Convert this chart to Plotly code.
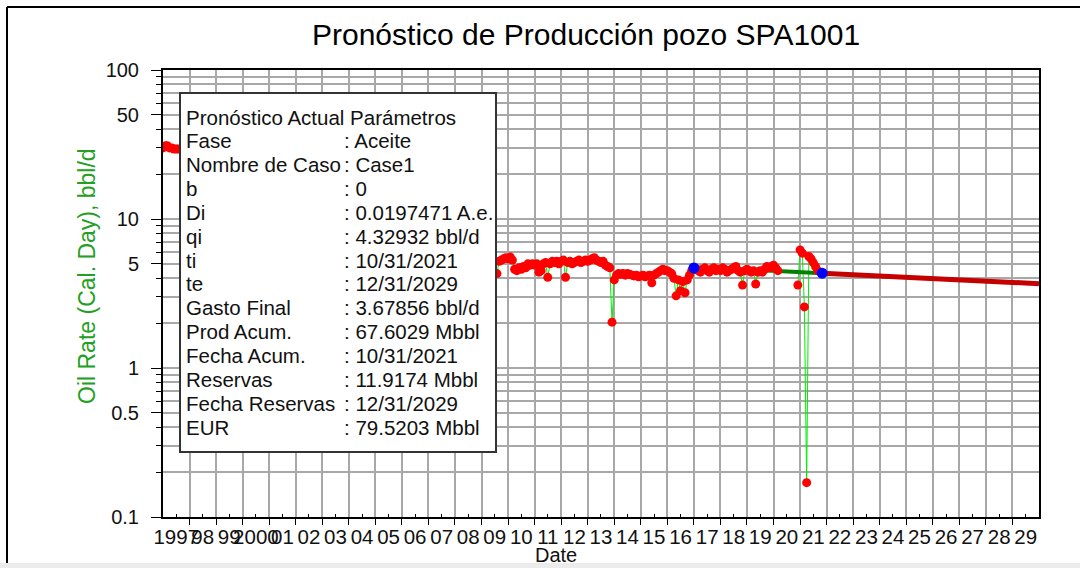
import pandas as pd
import plotly.graph_objects as go

# ---------------- data ----------------
early_dates = ["1997-01-01", "1997-02-01", "1997-03-01", "1997-04-01",
               "1997-05-01", "1997-06-01", "1997-07-01", "1997-08-01"]
early_values = [30.0, 31.0, 31.0, 30.0, 30.0, 29.5, 29.5, 29.5]

hist_start = "2009-05-01"
hist_end = "2021-09-01"
v2009 = [5.0, 5.1, 5.2, 4.3, 5.2, 5.3, 5.4, 5.5]
v2010 = [5.4, 5.55, 5.3, 4.6, 4.5, 4.7, 4.6, 4.8, 4.7, 5.0, 4.9, 5.0]
v2011 = [4.9, 5.0, 4.4, 4.5, 5.0, 5.1, 4.06, 5.0, 5.2, 5.1, 5.2, 5.0]
v2012 = [5.2, 5.3, 4.06, 5.1, 5.2, 5.0, 5.1, 5.2, 5.3, 5.1, 5.2, 5.3]
v2013 = [5.2, 5.3, 5.4, 5.5, 5.3, 5.2, 5.1, 5.2, 4.9, 4.8, 4.7, 2.03]
v2014 = [3.9, 4.2, 4.3, 4.25, 4.3, 4.2, 4.3, 4.25, 4.2, 4.15, 4.2, 4.1]
v2015 = [4.15, 4.2, 4.1, 4.15, 4.2, 3.73, 4.2, 4.3, 4.4, 4.5, 4.6, 4.5]
v2016 = [4.5, 4.4, 4.3, 4.0, 3.05, 3.9, 3.3, 3.8, 3.2, 3.9, 4.2, 4.5]
v2017 = [4.7, 4.6, 4.5, 4.4, 4.6, 4.7, 4.5, 4.4, 4.6, 4.7, 4.5, 4.6]
v2018 = [4.5, 4.7, 4.6, 4.4, 4.5, 4.6, 4.7, 4.8, 4.5, 4.4, 3.6, 4.5]
v2019 = [4.6, 4.5, 4.4, 4.5, 3.66, 4.4, 4.5, 4.4, 4.6, 4.8, 4.7, 4.8]
v2020 = [4.9, 4.7, 4.5, None, None, None, None, None, None, None, None, 3.6]
v2021 = [6.2, 5.9, 2.57, 0.17, 5.6, 5.4, 5.1, 4.8, 4.5]

fit_dates = ["2017-01-01", "2021-10-31"]
fit_values = [4.75, 4.33]

anchor_dates = ["2017-01-01", "2021-10-31"]
anchor_values = [4.69, 4.33]

fc_dates = ["2021-10-31", "2022-12-31", "2023-12-31", "2024-12-31", "2025-12-31",
            "2026-12-31", "2027-12-31", "2028-12-31", "2029-12-31"]
fc_values = [4.33, 4.23, 4.15, 4.07, 3.99, 3.91, 3.83, 3.76, 3.68]

years = list(range(1997, 2030))
year_labels = ["1997", "98", "99", "2000"] + ["%02d" % (y % 100) for y in range(2001, 2030)]

y_major = [0.1, 0.5, 1, 5, 10, 50, 100]
y_major_text = ["0.1", "0.5", "1", "5", "10", "50", "100"]

box_labels = ["Fase", "Nombre de Caso", "b", "Di", "qi", "ti", "te", "Gasto Final",
              "Prod Acum.", "Fecha Acum.", "Reservas", "Fecha Reservas", "EUR"]
box_values = ["Aceite", "Case1", "0", "0.0197471 A.e.", "4.32932 bbl/d", "10/31/2021",
              "12/31/2029", "3.67856 bbl/d", "67.6029 Mbbl", "10/31/2021", "11.9174 Mbbl",
              "12/31/2029", "79.5203 Mbbl"]

# ---------------- build ----------------
hist_dates = [d.strftime("%Y-%m-%d") for d in pd.date_range(hist_start, hist_end, freq="MS")]
hist_values = v2009 + v2010 + v2011 + v2012 + v2013 + v2014 + v2015 + v2016 + v2017 + v2018 + v2019 + v2020 + v2021

all_dates = early_dates + [None] + hist_dates
all_values = early_values + [None] + hist_values

FONT = "Liberation Sans, Arial, sans-serif"
L, R, T, B = 163, 41, 70, 51
W, H = 1080, 568
PW, PH = W - L - R, H - T - B


def px(x):
    return (x - L) / PW


def py(y):
    return (H - B - y) / PH


fig = go.Figure()
fig.add_trace(go.Scatter(x=all_dates, y=all_values, mode="lines",
                         line=dict(color="#00ee00", width=1), hoverinfo="skip"))
fig.add_trace(go.Scatter(x=fit_dates, y=fit_values, mode="lines",
                         line=dict(color="#008000", width=4)))
fig.add_trace(go.Scatter(x=all_dates, y=all_values, mode="markers",
                         marker=dict(color="#ff0000", size=9, symbol="circle")))
fig.add_trace(go.Scatter(x=fc_dates, y=fc_values, mode="lines",
                         line=dict(color="#c40000", width=5)))
fig.add_trace(go.Scatter(x=anchor_dates, y=anchor_values, mode="markers",
                         marker=dict(color="#0000ff", size=11, symbol="circle")))

mid_ticks = ["%d-07-02" % y for y in years]
year_ticks = ["%d-01-01" % y for y in range(1998, 2030)]

fig.update_xaxes(
    type="date", range=["1997-01-01", "2030-01-01"],
    tickmode="array", tickvals=mid_ticks, ticktext=year_labels, tickangle=0,
    ticks="inside", ticklen=3, tickwidth=1, tickcolor="black",
    showgrid=False, showline=True, linecolor="black", linewidth=2, mirror=True,
    tickfont=dict(family=FONT, size=20.5, color="#111111"),
    minor=dict(tickmode="array", tickvals=year_ticks, ticks="outside", ticklen=6,
               tickcolor="black", tickwidth=1, showgrid=True, gridcolor="#a8a8a8", gridwidth=2),
    zeroline=False,
)

minor_y = []
for e in [0.1, 1, 10]:
    for k in range(2, 10):
        minor_y.append(round(e * k, 3))

fig.update_yaxes(
    type="log", range=[-1, 2],
    tickmode="array", tickvals=y_major, ticktext=y_major_text,
    ticks="outside", ticklen=10, tickwidth=1, tickcolor="black",
    ticklabelstandoff=8,
    showgrid=True, gridcolor="#a8a8a8", gridwidth=2,
    showline=True, linecolor="black", linewidth=2, mirror=True,
    tickfont=dict(family=FONT, size=20, color="#111111"),
    minor=dict(tickmode="array", tickvals=minor_y, ticks="outside", ticklen=5,
               tickcolor="black", tickwidth=1, showgrid=True, gridcolor="#a8a8a8", gridwidth=2),
    zeroline=False,
)

shapes = [
    # legend box
    dict(type="rect", xref="paper", yref="paper", x0=px(180), x1=px(496), y0=py(452), y1=py(93),
         fillcolor="white", line=dict(color="#333333", width=2), layer="above"),
    # outer frame
    dict(type="line", xref="paper", yref="paper", x0=px(7), x1=px(1080), y0=py(7), y1=py(7),
         line=dict(color="black", width=2)),
    dict(type="line", xref="paper", yref="paper", x0=px(7), x1=px(7), y0=py(7), y1=py(568),
         line=dict(color="black", width=2)),
    dict(type="rect", xref="paper", yref="paper", x0=px(0), x1=px(1080), y0=py(563), y1=py(568),
         fillcolor="#ececec", line=dict(width=0)),
]

annotations = [
    dict(text="Pronóstico de Producción pozo SPA1001", xref="paper", yref="paper",
         x=px(586), y=py(35), xanchor="center", yanchor="middle", showarrow=False,
         font=dict(family=FONT, size=30, color="black")),
    dict(text="Oil Rate (Cal. Day), bbl/d", xref="paper", yref="paper",
         x=px(87), y=py(276), xanchor="center", yanchor="middle", showarrow=False, textangle=-90,
         font=dict(family=FONT, size=23, color="#22a022")),
    dict(text="Date", xref="paper", yref="paper",
         x=px(556), y=py(555), xanchor="center", yanchor="middle", showarrow=False,
         font=dict(family=FONT, size=20, color="#111111")),
    dict(text="Pronóstico Actual Parámetros", xref="paper", yref="paper",
         x=px(184), y=py(117), xanchor="left", yanchor="middle", showarrow=False,
         font=dict(family=FONT, size=20.5, color="#111111")),
]
row_h = 23.85
for i, (lab, val) in enumerate(zip(box_labels, box_values)):
    yc = 117 + (i + 1) * row_h
    annotations.append(dict(text=lab, xref="paper", yref="paper", x=px(184), y=py(yc),
                            xanchor="left", yanchor="middle", showarrow=False,
                            font=dict(family=FONT, size=20.5, color="#111111")))
    annotations.append(dict(text=": " + val, xref="paper", yref="paper", x=px(342), y=py(yc),
                            xanchor="left", yanchor="middle", showarrow=False,
                            font=dict(family=FONT, size=20.5, color="#111111")))

fig.update_layout(
    width=W, height=H,
    margin=dict(l=L, r=R, t=T, b=B, autoexpand=False),
    paper_bgcolor="white", plot_bgcolor="white",
    showlegend=False,
    shapes=shapes, annotations=annotations,
    font=dict(family=FONT),
)

fig.write_html("out.html", config={"displayModeBar": False},
               post_script="document.body.style.margin='0';document.body.style.overflow='hidden';")
